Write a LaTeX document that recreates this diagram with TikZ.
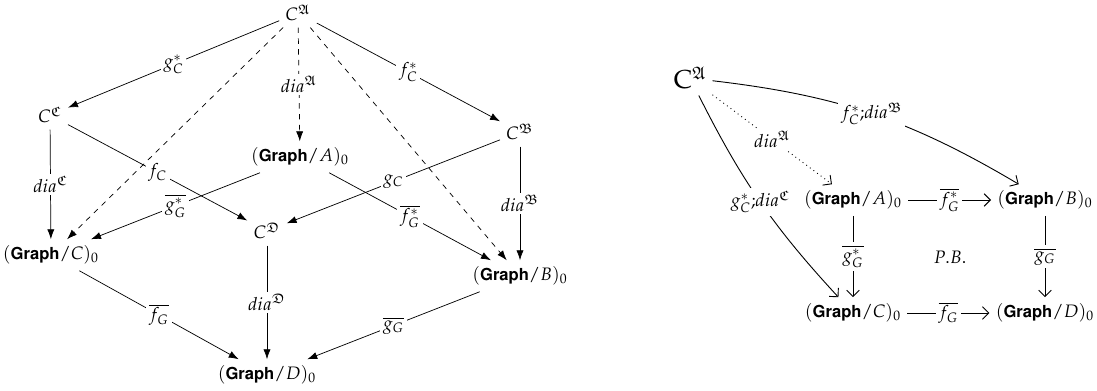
\documentclass[tikz,border=0pt]{standalone}
\usepackage[T1]{fontenc}
\usepackage{mathpazo}
\usepackage[scaled=0.92]{helvet}
\usepackage{amssymb}
\usetikzlibrary{arrows.meta}

\newcommand{\grslice}[1]{(\textsf{\textbf{Graph}}/#1)_0}

\begin{document}
\begin{tikzpicture}[x=0.0195cm,y=-0.0195cm,
  lbl/.style={fill=white,inner sep=1.5pt},
  cube/.style={-{Latex[length=5.5pt,width=4pt]}},
  sq/.style={line width=0.5pt,-{Straight Barb[length=3.5pt,width=7pt]}}]
\useasboundingbox (0,0) rectangle (1097,391);

% cube
\node (CA) at (298,13) {$C^{\mathfrak{A}}$};
\node (CC) at (50,115) {$C^{\mathfrak{C}}$};
\node (CB) at (520,132) {$C^{\mathfrak{B}}$};
\node (GA) at (300,157) {$\grslice{A}$};
\node (CD) at (267,231) {$C^{\mathfrak{D}}$};
\node (GC) at (51,255) {$\grslice{C}$};
\node (GB) at (520,276) {$\grslice{B}$};
\node (GD) at (267,375) {$\grslice{D}$};

\draw[cube] (CA) -- node[lbl] {$g^*_C$} (CC);
\draw[cube] (CA) -- node[lbl] {$f^*_C$} (CB);
\draw[cube,dashed] (CA) -- node[lbl] {$dia^{\mathfrak{A}}$} (GA);
\draw[cube,dashed] (CA) -- (GC);
\draw[cube,dashed] (CA) -- (GB);
\draw[cube] (CC) -- node[lbl] {$dia^{\mathfrak{C}}$} (GC);
\draw[cube] (CC) -- node[lbl] {$f_C$} (CD);
\draw[cube] (CB) -- node[lbl] {$dia^{\mathfrak{B}}$} (GB);
\draw[cube] (CB) -- node[lbl] {$g_C$} (CD);
\draw[cube] (GA) -- node[lbl] {$\overline{g^*_G}$} (GC);
\draw[cube] (GA) -- node[lbl] {$\overline{f^*_G}$} (GB);
\draw[cube] (CD) -- node[lbl] {$dia^{\mathfrak{D}}$} (GD);
\draw[cube] (GC) -- node[lbl] {$\overline{f_G}$} (GD);
\draw[cube] (GB) -- node[lbl] {$\overline{g_G}$} (GD);

% pullback square
\node (rA) at (690,78) {\Large$\mathrm{C}^{\mathfrak{A}}$};
\node (rGA) at (853,200) {$\grslice{A}$};
\node (rGB) at (1045,200) {$\grslice{B}$};
\node (rGC) at (853,313) {$\grslice{C}$};
\node (rGD) at (1045,313) {$\grslice{D}$};
\node (pb) at (950,257) {$P.B.$};

\draw[sq] (rA) to[bend left=12] node[lbl] {$f^*_C{;}dia^{\mathfrak{B}}$} (rGB);
\draw[sq] (rA) to[bend right=8] node[lbl] {$g^*_C{;}dia^{\mathfrak{C}}$} (rGC);
\draw[sq,dotted] (rA) -- node[lbl] {$dia^{\mathfrak{A}}$} (rGA);
\draw[sq] (rGA) -- node[lbl] {$\overline{f^*_G}$} (rGB);
\draw[sq] (rGA) -- node[lbl] {$\overline{g^*_G}$} (rGC);
\draw[sq] (rGB) -- node[lbl] {$\overline{g_G}$} (rGD);
\draw[sq] (rGC) -- node[lbl] {$\overline{f_G}$} (rGD);
\end{tikzpicture}
\end{document}
